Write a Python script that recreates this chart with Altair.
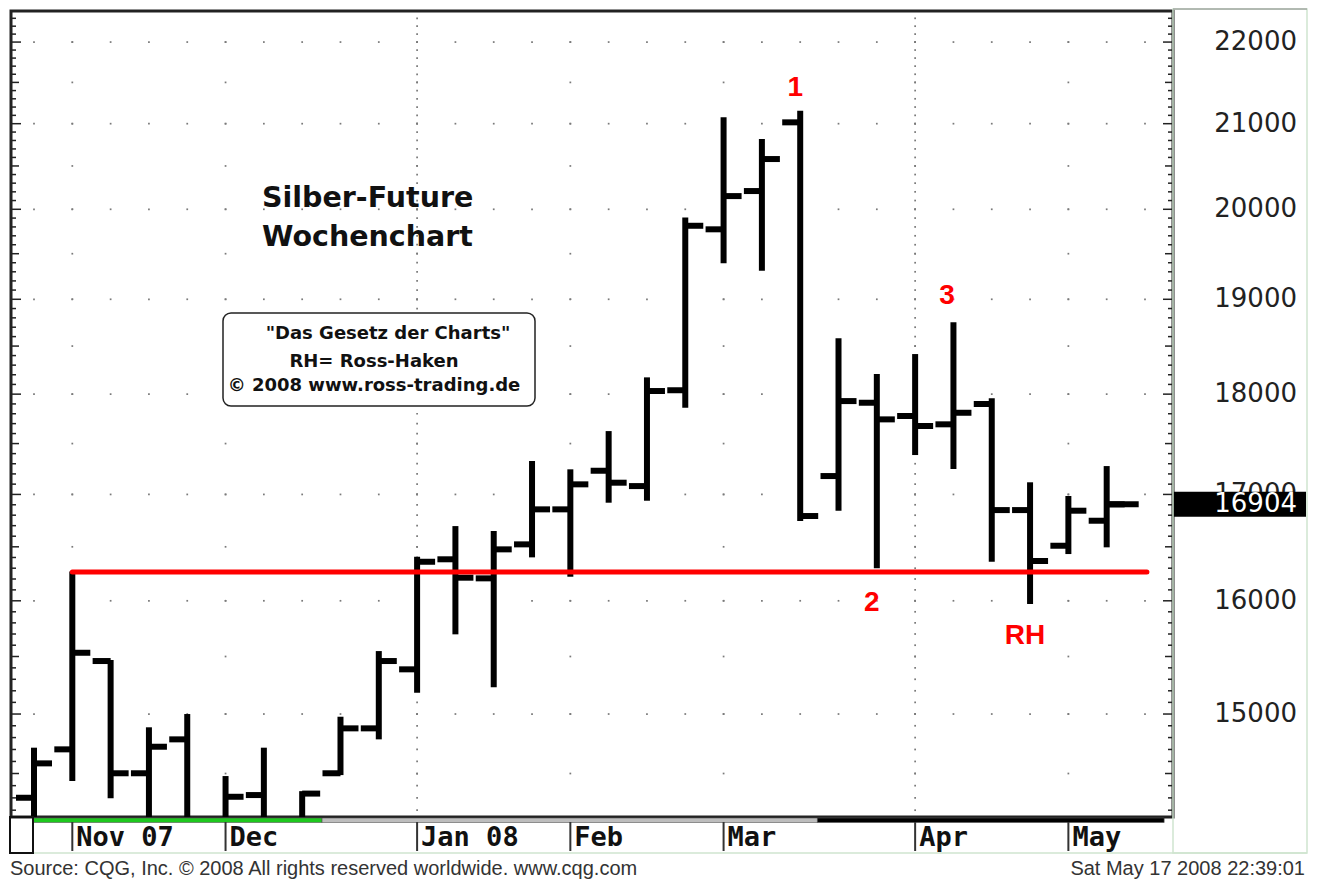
import altair as alt
import pandas as pd

# ---------------- data (weekly OHLC, silver futures, Oct 29 2007 .. May 12 2008) ----------------
WEEK_IDX = list(range(29))
OPEN = [14301, 14701, 15460, 14502, 14785, 14080, 14323, 14080, 14502, 14878,
        15387, 16383, 16206, 16523, 16856, 17231, 17081, 18040, 19773, 20209,
        21016, 17179, 17912, 17777, 17693, 17899, 16849, 16510, 16747]
HIGH = [14715, 16270, 15470, 14887, 15000, 14479, 14715, 14355, 14977, 15548,
        16407, 16696, 16649, 17327, 17245, 17625, 18173, 19908, 21076, 20817,
        21155, 18582, 18207, 18416, 18752, 17957, 17118, 16985, 17277]
LOW = [14050, 14438, 14296, 14050, 14050, 14050, 14050, 14050, 14487, 14785,
       15183, 15697, 15230, 16401, 16221, 16920, 16939, 17861, 19393, 19311,
       16744, 16843, 16300, 17386, 17248, 16360, 15971, 16432, 16495]
CLOSE = [14584, 15533, 14502, 14723, 14080, 14309, 14080, 14335, 14878, 15460,
         16360, 16212, 16476, 16856, 17098, 17114, 18032, 19813, 20151, 20581,
         16792, 17929, 17743, 17676, 17810, 16849, 16367, 16843, 16904]

MONTH_IDX = [1, 5, 10, 14, 18, 23, 27]
MONTH_LABELS = ["Nov 07", "Dec", "Jan 08", "Feb", "Mar", "Apr", "May"]
QUARTER_IDX = [10, 23]
GRID_COLS = list(range(30))

PRICE_LABELS = [15000, 16000, 17000, 18000, 19000, 20000, 21000, 22000]
LAST_PRICE = 16904

SUPPORT_LEVEL = 16265
SUPPORT_FROM = 1
SUPPORT_TO = 29.05

ANNOT_TEXT = ["1", "2", "3", "RH"]
ANNOT_IDX = [19.87, 21.87, 23.83, 25.87]
ANNOT_VAL = [21431, 15980, 19035, 15682]

STRIP_FROM = [-0.03, 7.52, 20.45]
STRIP_TO = [7.52, 20.45, 29.5]
STRIP_KIND = ["green", "gray", "black"]

TITLE_LINES = ["Silber-Future", "Wochenchart"]
BOX_LINES = ['"Das Gesetz der Charts"', "RH= Ross-Haken", "\u00a9 2008 www.ross-trading.de"]
FOOTER_LEFT = "Source: CQG, Inc. \u00a9 2008 All rights reserved worldwide. www.cqg.com"
FOOTER_RIGHT = "Sat May 17 2008 22:39:01"

# ---------------- scales ----------------
W, H = 1162, 806
xs = alt.Scale(domain=[-0.6004, 29.731], nice=False, zero=False)
ys = alt.Scale(type="log", domain=[14145, 22393], nice=False, zero=False)


def X(f):
    return alt.X(f, type="quantitative", scale=xs, axis=None)


def Y(f):
    return alt.Y(f, type="quantitative", scale=ys, axis=None)


bars = pd.DataFrame({"i": WEEK_IDX, "o": OPEN, "h": HIGH, "l": LOW, "c": CLOSE})

# dot grid
dots = []
for c in GRID_COLS:
    for v in range(15000, 22001, 1000):
        dots.append((c, v))
for c in MONTH_IDX:
    for v in range(14500, 22001, 500):
        dots.append((c, v))
for c in QUARTER_IDX:
    for v in range(14200, 22301, 100):
        dots.append((c, v))
dots_df = pd.DataFrame(dots, columns=["i", "v"])

layers = []
layers.append(
    alt.Chart(dots_df).mark_square(size=3, color="#7a7a7a", opacity=1, clip=True)
    .encode(x=X("i"), y=Y("v"))
)

# edge ticks (every 100, 500, 1000)
t100 = [v for v in range(14200, 22301, 100) if v % 500]
t500 = [v for v in range(14500, 22301, 500) if v % 1000]
t1000 = list(range(15000, 22001, 1000))
for lv, ln in ((t100, 5), (t500, 8), (t1000, 10)):
    df = pd.DataFrame({"v": lv})
    layers.append(alt.Chart(df).mark_rule(color="#222", strokeWidth=1.5)
                  .encode(x=alt.value(0), x2=alt.value(ln), y=Y("v")))
    layers.append(alt.Chart(df).mark_rule(color="#222", strokeWidth=1.5)
                  .encode(x=alt.value(W - ln), x2=alt.value(W), y=Y("v")))

# OHLC bars
layers.append(
    alt.Chart(bars).mark_rule(color="black", strokeWidth=6, strokeCap="butt", clip=True)
    .encode(x=X("i"), y=Y("l"), y2="h:Q")
)
layers.append(
    alt.Chart(bars).mark_tick(orient="horizontal", size=18, thickness=6, xOffset=-9,
                              color="black", opacity=1, clip=True)
    .encode(x=X("i"), y=Y("o"))
)
layers.append(
    alt.Chart(bars).mark_tick(orient="horizontal", size=18, thickness=6, xOffset=9,
                              color="black", opacity=1, clip=True)
    .encode(x=X("i"), y=Y("c"))
)
layers.append(
    alt.Chart(bars.tail(1)).mark_tick(orient="horizontal", size=32, thickness=6, xOffset=16,
                                      color="black", opacity=1, clip=True)
    .encode(x=X("i"), y=Y("c"))
)

# support line
sup = pd.DataFrame({"a": [SUPPORT_FROM], "b": [SUPPORT_TO], "v": [SUPPORT_LEVEL]})
layers.append(
    alt.Chart(sup).mark_rule(color="#ff0000", strokeWidth=5, strokeCap="round")
    .encode(x=X("a"), x2="b:Q", y=Y("v"))
)

# annotations
ann = pd.DataFrame({"t": ANNOT_TEXT, "i": ANNOT_IDX, "v": ANNOT_VAL})
layers.append(
    alt.Chart(ann).mark_text(font="Liberation Sans", fontWeight="bold", fontSize=28,
                             color="#ff0000", align="center", baseline="middle")
    .encode(x=X("i"), y=Y("v"), text="t:N")
)

# title
for line, yy in zip(TITLE_LINES, (187, 226)):
    layers.append(
        alt.Chart(pd.DataFrame({"t": [line]})).mark_text(
            font="DejaVu Sans", fontWeight="bold", fontSize=28.5, color="#111",
            align="left", baseline="middle")
        .encode(x=alt.value(251), y=alt.value(yy), text="t:N")
    )

# info box
layers.append(
    alt.Chart(pd.DataFrame({"k": [0]})).mark_rect(
        fill="white", stroke="#222", strokeWidth=1.5, cornerRadius=8)
    .encode(x=alt.value(212), x2=alt.value(524), y=alt.value(302), y2=alt.value(395))
)
for line, xx, yy in zip(BOX_LINES, (377, 363, 363), (323, 351, 375)):
    layers.append(
        alt.Chart(pd.DataFrame({"t": [line]})).mark_text(
            font="DejaVu Sans", fontWeight="bold", fontSize=18, color="#111",
            align="center", baseline="middle")
        .encode(x=alt.value(xx), y=alt.value(yy), text="t:N")
    )

# right price axis
pl = pd.DataFrame({"v": PRICE_LABELS})
layers.append(
    alt.Chart(pl).mark_text(font="DejaVu Sans", fontSize=26, color="#222",
                            align="right", baseline="middle")
    .encode(x=alt.value(1286), y=Y("v"), text=alt.Text("v:Q", format="d"))
)
lp = pd.DataFrame({"v": [LAST_PRICE]})
layers.append(
    alt.Chart(lp).mark_rule(color="black", strokeWidth=25, strokeCap="butt")
    .encode(x=alt.value(W), x2=alt.value(1295), y=Y("v"))
)
layers.append(
    alt.Chart(lp).mark_text(font="DejaVu Sans", fontSize=26, color="white",
                            align="right", baseline="middle")
    .encode(x=alt.value(1286), y=Y("v"), text=alt.Text("v:Q", format="d"))
)

# right panel frame and bottom lines
one = pd.DataFrame({"k": [0]})
layers.append(
    alt.Chart(one).mark_rect(filled=False, stroke="#cfe5cf", strokeWidth=1.5)
    .encode(x=alt.value(W), x2=alt.value(1296), y=alt.value(-2), y2=alt.value(842))
)
layers.append(
    alt.Chart(one).mark_rule(color="#888", strokeWidth=1)
    .encode(x=alt.value(W), x2=alt.value(1296), y=alt.value(-2))
)
layers.append(
    alt.Chart(one).mark_rule(color="#cfe5cf", strokeWidth=1.5)
    .encode(x=alt.value(-1), x2=alt.value(1296), y=alt.value(842))
)

# session strip under plot
strip = pd.DataFrame({"a": STRIP_FROM, "b": STRIP_TO, "k": STRIP_KIND})
layers.append(
    alt.Chart(strip).mark_rect(stroke="#555", strokeWidth=0.6)
    .encode(x=X("a"), x2="b:Q", y=alt.value(807), y2=alt.value(811.5),
            color=alt.Color("k:N", scale=alt.Scale(domain=["green", "gray", "black"],
                                                    range=["#1ec81e", "#bdbdbd", "#000000"]),
                            legend=None))
)

# small box at left of date row
layers.append(
    alt.Chart(one).mark_rect(filled=False, stroke="#111", strokeWidth=2)
    .encode(x=alt.value(-1), x2=alt.value(22), y=alt.value(806), y2=alt.value(842))
)

# month separators and labels
mo = pd.DataFrame({"i": MONTH_IDX, "m": MONTH_LABELS})
layers.append(
    alt.Chart(mo).mark_rule(color="#333", strokeWidth=2)
    .encode(x=X("i"), y=alt.value(811), y2=alt.value(840))
)
layers.append(
    alt.Chart(mo).mark_text(font="DejaVu Sans Mono", fontWeight="bold", fontSize=27,
                            color="#111", align="left", baseline="middle", dx=4)
    .encode(x=X("i"), y=alt.value(827), text="m:N")
)

# footer
layers.append(
    alt.Chart(pd.DataFrame({"t": [FOOTER_LEFT]})).mark_text(
        font="Liberation Sans", fontSize=20, color="#333", align="left", baseline="middle")
    .encode(x=alt.value(-1), y=alt.value(858), text="t:N")
)
layers.append(
    alt.Chart(pd.DataFrame({"t": [FOOTER_RIGHT]})).mark_text(
        font="Liberation Sans", fontSize=20, color="#333", align="right", baseline="middle")
    .encode(x=alt.value(1294), y=alt.value(858), text="t:N")
)

chart = (
    alt.layer(*layers)
    .properties(width=W, height=H, autosize="none",
                padding={"left": 3, "top": 3, "right": 135, "bottom": 62})
    .configure(background="white")
    .configure_view(stroke="#222", strokeWidth=3)
)

chart.save("out.html", embed_options={"renderer": "svg", "actions": False})
